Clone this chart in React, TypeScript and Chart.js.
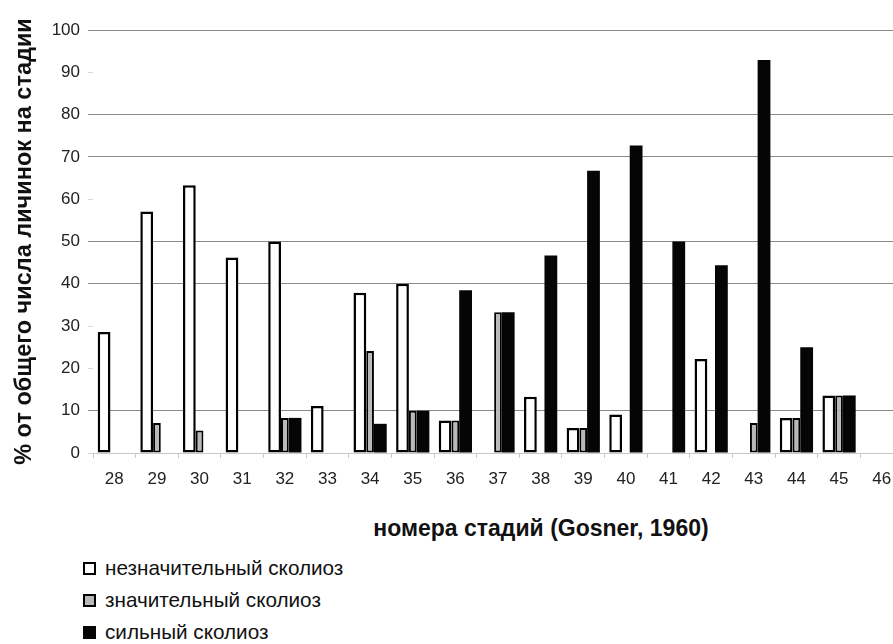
import React, { useEffect, useRef } from "react";
import { Chart, registerables } from "chart.js";

Chart.register(...registerables);

const stages = ["28", "29", "30", "31", "32", "33", "34", "35", "36", "37", "38", "39", "40", "41", "42", "43", "44", "45", "46"];
const minorScoliosis = [28.6, 57.1, 63.3, 46.2, 50, 11.1, 37.9, 40, 7.7, null, 13.3, 5.9, 9.1, null, 22.2, null, 8.3, 13.6, null];
const significantScoliosis = [null, 7.1, 5.3, null, 8.3, null, 24.1, 10, 7.7, 33.3, null, 5.9, null, null, null, 7.1, 8.3, 13.6, null];
const severeScoliosis = [null, null, null, null, 8.3, null, 6.9, 10, 38.5, 33.3, 46.7, 66.7, 72.7, 50, 44.4, 92.9, 25, 13.6, null];
const seriesNames = ["незначительный сколиоз", "значительный сколиоз", "сильный сколиоз"];
const seriesColors = ["#ffffff", "#b9b9b9", "#050505"];
const yMin = 0;
const yMax = 100;
const yStep = 10;
const visibleGridValues = [10, 40, 50, 70, 80, 100];
const xTitle = "номера стадий (Gosner, 1960)";
const yTitle = "% от общего числа личинок на стадии";

const FONT = "'Liberation Sans', Arial, Helvetica, sans-serif";

export default function App() {
  const canvasRef = useRef<HTMLCanvasElement | null>(null);

  useEffect(() => {
    if (!canvasRef.current) return;
    const chart = new Chart(canvasRef.current, {
      type: "bar",
      data: {
        labels: stages,
        datasets: [
          {
            label: seriesNames[0],
            data: minorScoliosis,
            backgroundColor: seriesColors[0],
            borderColor: "#000",
            borderWidth: 2.5,
            borderSkipped: false,
            barPercentage: 1.25,
            categoryPercentage: 0.72,
          },
          {
            label: seriesNames[1],
            data: significantScoliosis,
            backgroundColor: seriesColors[1],
            borderColor: "#000",
            borderWidth: 2,
            borderSkipped: false,
            barPercentage: 0.75,
            categoryPercentage: 0.72,
          },
          {
            label: seriesNames[2],
            data: severeScoliosis,
            backgroundColor: seriesColors[2],
            borderColor: seriesColors[2],
            borderWidth: 0,
            barPercentage: 1.25,
            categoryPercentage: 0.72,
          },
        ],
      },
      options: {
        animation: false,
        responsive: true,
        maintainAspectRatio: false,
        layout: { padding: { top: 30, right: 2, bottom: 0, left: 0 } },
        plugins: {
          legend: { display: false },
          tooltip: { enabled: false },
        },
        scales: {
          x: {
            grid: {
              drawOnChartArea: false,
              drawTicks: true,
              tickLength: 5,
              color: "#c8c8c8",
            },
            border: { color: "#c8c8c8" },
            ticks: {
              color: "#222",
              font: { size: 17, family: FONT },
              padding: 11,
              maxRotation: 0,
              autoSkip: false,
            },
            afterFit: (s: any) => {
              s.height = 47;
            },
          },
          y: {
            min: yMin,
            max: yMax,
            ticks: {
              stepSize: yStep,
              color: "#222",
              font: { size: 17, family: FONT },
              padding: 8,
            },
            grid: {
              color: (ctx: any) => {
                const v = ctx.tick ? ctx.tick.value : null;
                if (v === 0) return "#c8c8c8";
                return visibleGridValues.includes(v) ? "#8a8a8a" : "rgba(0,0,0,0)";
              },
              tickColor: (ctx: any) => {
                const v = ctx.tick ? ctx.tick.value : null;
                return visibleGridValues.includes(v) ? "#8a8a8a" : "#d8d8d8";
              },
              tickLength: 5,
              lineWidth: 1,
            },
            border: { display: false },
            title: {
              display: true,
              text: yTitle,
              color: "#111",
              font: { size: 23.5, weight: "bold", family: FONT },
              padding: { top: 10, bottom: 0 },
            },
            afterFit: (s: any) => {
              s.width = 93;
            },
          },
        },
      },
    });
    return () => chart.destroy();
  }, []);

  const legendBox = (color: string) => ({
    display: "inline-block",
    boxSizing: "border-box" as const,
    width: 13,
    height: 13,
    border: color === seriesColors[2] ? `2.5px solid ${color}` : "2.5px solid #000",
    background: color,
    marginRight: 9,
    verticalAlign: "middle",
  });

  return (
    <div
      style={{
        position: "fixed",
        left: 0,
        top: 0,
        width: 893,
        height: 644,
        overflow: "hidden",
        background: "#fff",
        fontFamily: FONT,
      }}
    >
      <div style={{ position: "absolute", left: 0, top: 0, width: 905, height: 500 }}>
        <canvas ref={canvasRef} />
      </div>
      <div
        style={{
          position: "absolute",
          left: 541,
          top: 514,
          transform: "translateX(-50%)",
          whiteSpace: "nowrap",
          fontWeight: "bold",
          fontSize: 23,
          lineHeight: "28px",
          color: "#111",
        }}
      >
        {xTitle}
      </div>
      <div style={{ position: "absolute", left: 83, top: 552 }}>
        {seriesNames.map((name, i) => (
          <div
            key={name}
            style={{
              height: 32,
              lineHeight: "28px",
              fontSize: 20.7,
              color: "#111",
              whiteSpace: "nowrap",
              display: "flex",
              alignItems: "center",
            }}
          >
            <span style={legendBox(seriesColors[i])} />
            <span>{name}</span>
          </div>
        ))}
      </div>
    </div>
  );
}
